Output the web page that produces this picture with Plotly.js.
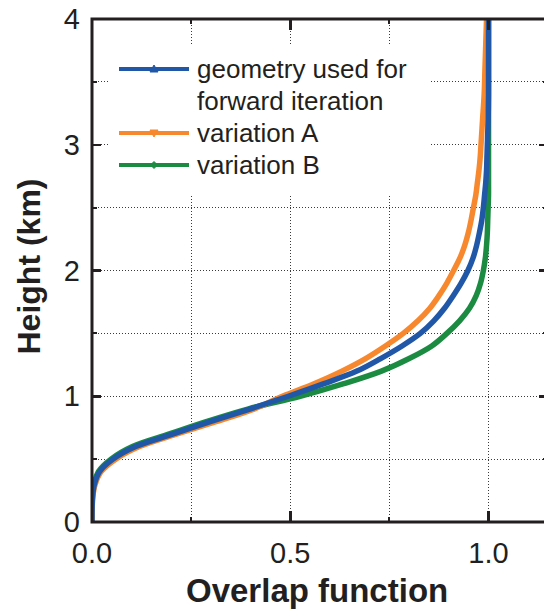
<!DOCTYPE html>
<html>
<head>
<meta charset="utf-8">
<script src="https://cdn.plot.ly/plotly-3.0.1.min.js"></script>
<style>
  html, body { margin: 0; padding: 0; overflow: hidden; background: #fff; }
  #chart { width: 548px; height: 610px; }
</style>
</head>
<body>
<div id="chart"></div>
<script>
// Height levels (km) at which the overlap function is sampled
const heightKm = [0, 0.1, 0.2, 0.3, 0.4, 0.5, 0.6, 0.7, 0.8, 0.9,
  1.0, 1.1, 1.2, 1.3, 1.4, 1.5, 1.6, 1.7, 1.8, 1.9,
  2.0, 2.1, 2.2, 2.3, 2.4, 2.5, 2.6, 2.7, 2.8, 2.9,
  3.0, 3.2, 3.4, 3.6, 3.8, 4.0];

// Overlap function for each lidar geometry
const overlapGeometry = [0, 0.0003, 0.0015, 0.006, 0.019, 0.053, 0.11, 0.205, 0.30, 0.40,
  0.495, 0.585, 0.668, 0.728, 0.782, 0.828, 0.862, 0.889, 0.911, 0.931,
  0.948, 0.961, 0.970, 0.977, 0.983, 0.987, 0.990, 0.993, 0.995, 0.996,
  0.997, 0.999, 1.0, 1.0, 1.0, 1.0];
const overlapVariationA = [0, 0.0004, 0.002, 0.008, 0.023, 0.06, 0.12, 0.215, 0.315, 0.41,
  0.48, 0.56, 0.63, 0.69, 0.74, 0.785, 0.822, 0.852, 0.875, 0.895,
  0.912, 0.928, 0.94, 0.949, 0.956, 0.962, 0.968, 0.972, 0.976, 0.979,
  0.981, 0.985, 0.989, 0.991, 0.993, 0.995];
const overlapVariationB = [0, 0.0002, 0.001, 0.005, 0.016, 0.048, 0.102, 0.195, 0.29, 0.395,
  0.525, 0.635, 0.73, 0.80, 0.857, 0.895, 0.927, 0.952, 0.969, 0.98,
  0.987, 0.992, 0.995, 0.997, 0.998, 0.999, 1.0, 1.0, 1.0, 1.0,
  1.0, 1.0, 1.0, 1.0, 1.0, 1.0];

const seriesNames = ['geometry used for<br>forward iteration', 'variation A', 'variation B'];
const seriesColors = ['#2157a7', '#f7882d', '#1c8b42'];
const seriesSymbols = ['up', 'down', 'diamond'];

const xTitle = 'Overlap function';
const yTitle = 'Height (km)';

const INK = '#231f20';
const FONT = 'Liberation Sans, Arial, Helvetica, sans-serif';

// Figure geometry (px)
const W = 548, H = 610;
const M = { l: 92, r: 0, t: 19, b: 88 };
const plotW = W - M.l - M.r, plotH = H - M.t - M.b;
const px = x => (x - M.l) / plotW;        // page px -> paper x
const py = y => (H - M.b - y) / plotH;    // page px -> paper y

const seriesData = [overlapGeometry, overlapVariationA, overlapVariationB];

// Draw B first, A next, geometry on top
const drawOrder = [2, 1, 0];
const traces = drawOrder.map(i => ({
  type: 'scatter',
  mode: 'lines',
  x: seriesData[i],
  y: heightKm,
  name: seriesNames[i],
  line: { color: seriesColors[i], width: 5.5, shape: 'spline', smoothing: 1 },
  showlegend: false,
  hoverinfo: 'skip'
}));

// Legend: white box, line samples with a small marker, and labels
const shapes = [];
const annotations = [];
shapes.push({
  type: 'rect', xref: 'paper', yref: 'paper', layer: 'above',
  x0: px(108), x1: px(429), y0: py(195), y1: py(44),
  fillcolor: '#ffffff', line: { width: 0 }
});
const legendRows = [69, 133, 165];
const lineX0 = 119, lineX1 = 189, markX = 154;
seriesNames.forEach((name, i) => {
  const yy = legendRows[i];
  shapes.push({
    type: 'line', xref: 'paper', yref: 'paper', layer: 'above',
    x0: px(lineX0), x1: px(lineX1), y0: py(yy), y1: py(yy),
    line: { color: seriesColors[i], width: 4 }
  });
  let pts;
  if (seriesSymbols[i] === 'up') pts = [[-4, 3], [4, 3], [0, -4]];
  else if (seriesSymbols[i] === 'down') pts = [[-4, -3], [4, -3], [0, 4]];
  else pts = [[-3.5, 0], [0, -3.5], [3.5, 0], [0, 3.5]];
  const path = 'M' + pts.map(p => px(markX + p[0]) + ',' + py(yy + p[1])).join(' L') + ' Z';
  shapes.push({
    type: 'path', xref: 'paper', yref: 'paper', layer: 'above',
    path: path, fillcolor: seriesColors[i], line: { color: seriesColors[i], width: 1 }
  });
  name.split('<br>').forEach((part, k) => {
    annotations.push({
      xref: 'paper', yref: 'paper', x: px(195), y: py(yy + 32 * k),
      xanchor: 'left', yanchor: 'middle', showarrow: false,
      text: part, font: { family: FONT, size: 26, color: INK }
    });
  });
});

// Axis titles
annotations.push({
  xref: 'paper', yref: 'paper', x: px(316.5), y: py(590),
  xanchor: 'center', yanchor: 'middle', showarrow: false,
  text: '<b>' + xTitle + '</b>', font: { family: FONT, size: 33, color: INK }
});
annotations.push({
  xref: 'paper', yref: 'paper', x: px(28.5), y: py(267),
  xanchor: 'center', yanchor: 'middle', showarrow: false, textangle: -90,
  text: '<b>' + yTitle + '</b>', font: { family: FONT, size: 32, color: INK }
});

// Frame round the plotting area
shapes.push({
  type: 'rect', xref: 'paper', yref: 'paper', layer: 'above',
  x0: 0, x1: 1, y0: 0, y1: 1,
  line: { color: INK, width: 3 }, fillcolor: 'rgba(0,0,0,0)'
});

const gridStyle = { showgrid: true, gridcolor: '#3a3a3a', gridwidth: 1, griddash: '1px,2px' };

const layout = {
  width: W, height: H,
  margin: M,
  paper_bgcolor: '#ffffff',
  plot_bgcolor: '#ffffff',
  showlegend: false,
  font: { family: FONT, color: INK },
  xaxis: Object.assign({
    range: [0, 1.15],
    tick0: 0, dtick: 0.5, tickformat: '.1f',
    ticks: 'inside', ticklen: 11, tickwidth: 2.5, tickcolor: INK,
    mirror: 'ticks', showline: false, zeroline: false,
    tickfont: { family: FONT, size: 29, color: INK },
    ticklabelstandoff: 11,
    minor: Object.assign({ tick0: 0, dtick: 0.25, ticks: 'inside', ticklen: 5, tickwidth: 2, tickcolor: INK }, gridStyle)
  }, gridStyle),
  yaxis: Object.assign({
    range: [0, 4],
    tick0: 0, dtick: 1,
    ticks: 'inside', ticklen: 9, tickwidth: 2.5, tickcolor: INK,
    mirror: 'ticks', showline: false, zeroline: false,
    tickfont: { family: FONT, size: 29, color: INK },
    ticklabelstandoff: 11,
    minor: Object.assign({ tick0: 0, dtick: 0.5, ticks: 'inside', ticklen: 5, tickwidth: 2, tickcolor: INK }, gridStyle)
  }, gridStyle),
  shapes: shapes,
  annotations: annotations
};

Plotly.newPlot('chart', traces, layout, { displayModeBar: false, staticPlot: true });
</script>
</body>
</html>
